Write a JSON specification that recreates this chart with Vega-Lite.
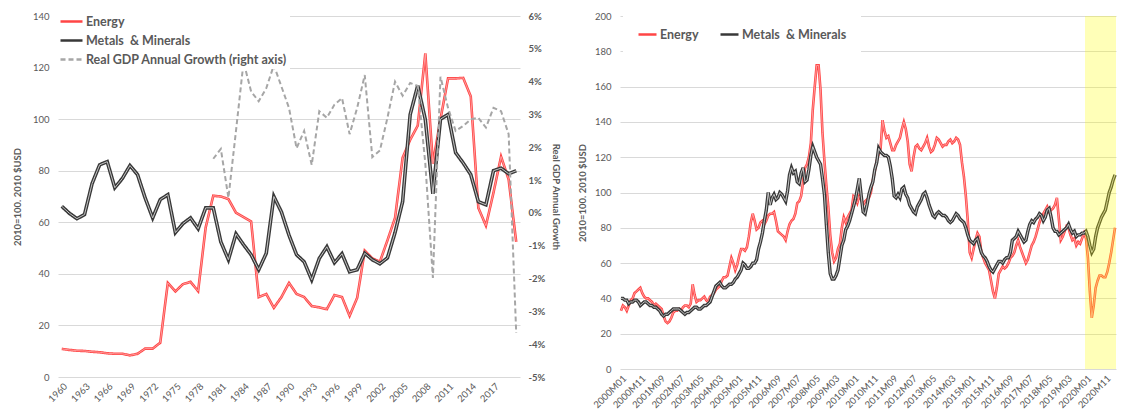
{
 "$schema": "https://vega.github.io/schema/vega-lite/v6.json",
 "background": "white",
 "padding": {"left": 12, "top": 6, "right": 0, "bottom": 0},
 "config": {
  "font": "Lato",
  "view": {"stroke": null},
  "axis": {"labelFont": "Lato", "labelFontSize": 9.5, "labelColor": "#595959", "titleFont": "Lato", "titleFontSize": 9.5, "titleFontWeight": "bold", "titleColor": "#595959", "domain": false, "ticks": false, "gridColor": "#d9d9d9", "gridWidth": 1, "labelOverlap": false},
  "legend": {"labelFont": "Lato", "labelFontSize": 12.5, "labelFontWeight": "bold", "labelColor": "#595959", "symbolType": "stroke", "symbolStrokeWidth": 2.5, "fillColor": "white", "labelOffset": 2, "labelLimit": 400}
 },
 "spacing": 16,
 "resolve": {"scale": {"color": "independent", "strokeDash": "independent"}, "legend": {"color": "independent", "strokeDash": "independent"}},
 "datasets": {
  "annual": [
   {"year":1960,"energy":10.9,"metals":66.2},{"year":1961,"energy":10.5,"metals":63.5},{"year":1962,"energy":10.2,"metals":61.4},{"year":1963,"energy":10.1,"metals":63},{"year":1964,"energy":9.8,"metals":75},{"year":1965,"energy":9.6,"metals":82.3},{"year":1966,"energy":9.2,"metals":83.5},{"year":1967,"energy":9.0,"metals":73.4},{"year":1968,"energy":9.0,"metals":77},{"year":1969,"energy":8.4,"metals":82},
   {"year":1970,"energy":9.0,"metals":78.5},{"year":1971,"energy":11.0,"metals":69.5},{"year":1972,"energy":11.0,"metals":61.7},{"year":1973,"energy":13.3,"metals":68.8},{"year":1974,"energy":36.5,"metals":70.7},{"year":1975,"energy":33.2,"metals":56},{"year":1976,"energy":36.0,"metals":59.5},{"year":1977,"energy":36.9,"metals":61.7},{"year":1978,"energy":33.3,"metals":57.5},{"year":1979,"energy":58,"metals":65.6},
   {"year":1980,"energy":70.3,"metals":65.6,"gdp":1.65},{"year":1981,"energy":70,"metals":52.4,"gdp":1.95},{"year":1982,"energy":69,"metals":45.5,"gdp":0.46},{"year":1983,"energy":63.7,"metals":55.5,"gdp":2.5},{"year":1984,"energy":62,"metals":51.3,"gdp":4.6},{"year":1985,"energy":60.3,"metals":47.4,"gdp":3.7},{"year":1986,"energy":31,"metals":41.6,"gdp":3.4},{"year":1987,"energy":32.2,"metals":48,"gdp":3.8},{"year":1988,"energy":26.8,"metals":70,"gdp":4.5},{"year":1989,"energy":31,"metals":64,"gdp":3.85},
   {"year":1990,"energy":36.5,"metals":55,"gdp":3.2},{"year":1991,"energy":32.2,"metals":47.4,"gdp":1.97},{"year":1992,"energy":31,"metals":44.7,"gdp":2.5},{"year":1993,"energy":27.5,"metals":37.7,"gdp":1.46},{"year":1994,"energy":27,"metals":46,"gdp":3.1},{"year":1995,"energy":26.3,"metals":50.5,"gdp":2.9},{"year":1996,"energy":31.8,"metals":44.3,"gdp":3.3},{"year":1997,"energy":31,"metals":47.8,"gdp":3.5},{"year":1998,"energy":23.7,"metals":40.8,"gdp":2.4},{"year":1999,"energy":30.7,"metals":41.6,"gdp":3.2},
   {"year":2000,"energy":49,"metals":48,"gdp":4.2},{"year":2001,"energy":46,"metals":45.5,"gdp":1.7},{"year":2002,"energy":44.7,"metals":43.9,"gdp":1.9},{"year":2003,"energy":53,"metals":46.2,"gdp":2.9},{"year":2004,"energy":61.7,"metals":56,"gdp":4.0},{"year":2005,"energy":85,"metals":68,"gdp":3.57},{"year":2006,"energy":92,"metals":101.8,"gdp":3.96},{"year":2007,"energy":97.5,"metals":113,"gdp":3.87},{"year":2008,"energy":125.5,"metals":99.8,"gdp":1.5},{"year":2009,"energy":82.7,"metals":71,"gdp":-1.98},
   {"year":2010,"energy":100,"metals":100,"gdp":4.15},{"year":2011,"energy":115.8,"metals":101.8,"gdp":3.2},{"year":2012,"energy":115.8,"metals":87,"gdp":2.5},{"year":2013,"energy":116,"metals":83,"gdp":2.65},{"year":2014,"energy":108.8,"metals":78.5,"gdp":2.85},{"year":2015,"energy":65.6,"metals":68,"gdp":2.9},{"year":2016,"energy":58.7,"metals":66.8,"gdp":2.6},{"year":2017,"energy":71.5,"metals":80,"gdp":3.2},{"year":2018,"energy":85.5,"metals":81,"gdp":3.1},{"year":2019,"energy":76.6,"metals":78.8,"gdp":2.4},
   {"year":2020,"energy":52.4,"metals":80,"gdp":-3.66}
  ],
  "monthly": [
   {"t":0,"energy":33,"metals":40},{"t":1,"energy":36,"metals":40},{"t":2,"energy":35,"metals":39},{"t":3,"energy":33,"metals":39},{"t":4,"energy":36,"metals":37},{"t":5,"energy":39,"metals":38},{"t":6,"energy":40,"metals":38},{"t":7,"energy":43,"metals":39},{"t":8,"energy":44,"metals":39},{"t":9,"energy":45,"metals":38},{"t":10,"energy":46,"metals":36},{"t":11,"energy":43,"metals":37},
   {"t":12,"energy":41,"metals":38},{"t":13,"energy":40,"metals":38},{"t":14,"energy":40,"metals":37},{"t":15,"energy":39,"metals":36},{"t":16,"energy":38,"metals":36},{"t":17,"energy":36,"metals":35},{"t":18,"energy":37,"metals":35},{"t":19,"energy":36,"metals":34},{"t":20,"energy":35,"metals":33},{"t":21,"energy":34,"metals":31},{"t":22,"energy":30,"metals":30},{"t":23,"energy":27,"metals":31},
   {"t":24,"energy":26,"metals":31},{"t":25,"energy":27,"metals":32},{"t":26,"energy":29,"metals":33},{"t":27,"energy":32,"metals":34},{"t":28,"energy":33,"metals":34},{"t":29,"energy":33,"metals":34},{"t":30,"energy":34,"metals":34},{"t":31,"energy":33,"metals":33},{"t":32,"energy":35,"metals":32},{"t":33,"energy":36,"metals":31},{"t":34,"energy":36,"metals":32},{"t":35,"energy":35,"metals":32},
   {"t":36,"energy":37,"metals":33},{"t":37,"energy":48,"metals":34},{"t":38,"energy":42,"metals":35},{"t":39,"energy":38,"metals":35},{"t":40,"energy":39,"metals":34},{"t":41,"energy":39,"metals":34},{"t":42,"energy":40,"metals":35},{"t":43,"energy":41,"metals":36},{"t":44,"energy":39,"metals":36},{"t":45,"energy":38,"metals":37},{"t":46,"energy":41,"metals":38},{"t":47,"energy":42,"metals":41},
   {"t":48,"energy":43,"metals":44},{"t":49,"energy":45,"metals":47},{"t":50,"energy":46,"metals":48},{"t":51,"energy":47,"metals":49},{"t":52,"energy":50,"metals":47},{"t":53,"energy":52,"metals":46},{"t":54,"energy":52,"metals":46},{"t":55,"energy":53,"metals":47},{"t":56,"energy":58,"metals":48},{"t":57,"energy":63,"metals":48},{"t":58,"energy":60,"metals":49},{"t":59,"energy":56,"metals":51},
   {"t":60,"energy":59,"metals":52},{"t":61,"energy":64,"metals":54},{"t":62,"energy":68,"metals":56},{"t":63,"energy":68,"metals":60},{"t":64,"energy":67,"metals":59},{"t":65,"energy":69,"metals":57},{"t":66,"energy":75,"metals":57},{"t":67,"energy":83,"metals":58},{"t":68,"energy":88,"metals":60},{"t":69,"energy":84,"metals":60},{"t":70,"energy":79,"metals":62},{"t":71,"energy":80,"metals":68},
   {"t":72,"energy":83,"metals":72},{"t":73,"energy":84,"metals":77},{"t":74,"energy":82,"metals":84},{"t":75,"energy":84,"metals":90},{"t":76,"energy":87,"metals":100},{"t":77,"energy":88,"metals":93},{"t":78,"energy":88,"metals":97},{"t":79,"energy":89,"metals":99},{"t":80,"energy":84,"metals":96},{"t":81,"energy":78,"metals":97},{"t":82,"energy":77,"metals":100},{"t":83,"energy":76,"metals":99},
   {"t":84,"energy":75,"metals":97},{"t":85,"energy":73,"metals":95},{"t":86,"energy":78,"metals":101},{"t":87,"energy":82,"metals":110},{"t":88,"energy":84,"metals":114},{"t":89,"energy":85,"metals":111},{"t":90,"energy":88,"metals":112},{"t":91,"energy":94,"metals":106},{"t":92,"energy":95,"metals":105},{"t":93,"energy":98,"metals":111},{"t":94,"energy":106,"metals":114},{"t":95,"energy":114,"metals":106},
   {"t":96,"energy":116,"metals":107},{"t":97,"energy":120,"metals":113},{"t":98,"energy":128,"metals":121},{"t":99,"energy":147,"metals":126},{"t":100,"energy":160,"metals":123},{"t":101,"energy":172,"metals":120},{"t":102,"energy":172,"metals":118},{"t":103,"energy":158,"metals":116},{"t":104,"energy":134,"metals":108},{"t":105,"energy":118,"metals":99},{"t":106,"energy":104,"metals":82},{"t":107,"energy":92,"metals":66},
   {"t":108,"energy":76,"metals":54},{"t":109,"energy":66,"metals":51},{"t":110,"energy":61,"metals":51},{"t":111,"energy":63,"metals":53},{"t":112,"energy":68,"metals":56},{"t":113,"energy":71,"metals":63},{"t":114,"energy":80,"metals":70},{"t":115,"energy":86,"metals":73},{"t":116,"energy":83,"metals":79},{"t":117,"energy":86,"metals":81},{"t":118,"energy":88,"metals":84},{"t":119,"energy":90,"metals":88},
   {"t":120,"energy":98,"metals":92},{"t":121,"energy":97,"metals":96},{"t":122,"energy":94,"metals":102},{"t":123,"energy":98,"metals":108},{"t":124,"energy":96,"metals":98},{"t":125,"energy":93,"metals":89},{"t":126,"energy":95,"metals":88},{"t":127,"energy":96,"metals":93},{"t":128,"energy":97,"metals":99},{"t":129,"energy":100,"metals":103},{"t":130,"energy":107,"metals":106},{"t":131,"energy":112,"metals":113},
   {"t":132,"energy":118,"metals":117},{"t":133,"energy":122,"metals":125},{"t":134,"energy":125,"metals":123},{"t":135,"energy":141,"metals":122},{"t":136,"energy":135,"metals":121},{"t":137,"energy":131,"metals":121},{"t":138,"energy":132,"metals":120},{"t":139,"energy":128,"metals":115},{"t":140,"energy":124,"metals":108},{"t":141,"energy":124,"metals":98},{"t":142,"energy":127,"metals":97},{"t":143,"energy":129,"metals":99},
   {"t":144,"energy":131,"metals":97},{"t":145,"energy":136,"metals":102},{"t":146,"energy":140,"metals":103},{"t":147,"energy":136,"metals":99},{"t":148,"energy":129,"metals":97},{"t":149,"energy":116,"metals":93},{"t":150,"energy":112,"metals":91},{"t":151,"energy":120,"metals":89},{"t":152,"energy":126,"metals":88},{"t":153,"energy":127,"metals":92},{"t":154,"energy":125,"metals":94},{"t":155,"energy":124,"metals":96},
   {"t":156,"energy":126,"metals":99},{"t":157,"energy":128,"metals":100},{"t":158,"energy":131,"metals":97},{"t":159,"energy":126,"metals":93},{"t":160,"energy":123,"metals":90},{"t":161,"energy":124,"metals":87},{"t":162,"energy":127,"metals":86},{"t":163,"energy":131,"metals":88},{"t":164,"energy":130,"metals":89},{"t":165,"energy":128,"metals":88},{"t":166,"energy":126,"metals":87},{"t":167,"energy":127,"metals":87},
   {"t":168,"energy":127,"metals":86},{"t":169,"energy":129,"metals":84},{"t":170,"energy":130,"metals":83},{"t":171,"energy":128,"metals":84},{"t":172,"energy":129,"metals":86},{"t":173,"energy":131,"metals":88},{"t":174,"energy":130,"metals":87},{"t":175,"energy":127,"metals":85},{"t":176,"energy":117,"metals":84},{"t":177,"energy":109,"metals":83},{"t":178,"energy":98,"metals":80},{"t":179,"energy":84,"metals":76},
   {"t":180,"energy":66,"metals":73},{"t":181,"energy":63,"metals":72},{"t":182,"energy":68,"metals":71},{"t":183,"energy":73,"metals":73},{"t":184,"energy":77,"metals":74},{"t":185,"energy":75,"metals":70},{"t":186,"energy":66,"metals":66},{"t":187,"energy":63,"metals":64},{"t":188,"energy":60,"metals":63},{"t":189,"energy":58,"metals":61},{"t":190,"energy":56,"metals":58},{"t":191,"energy":50,"metals":56},
   {"t":192,"energy":44,"metals":55},{"t":193,"energy":40,"metals":57},{"t":194,"energy":46,"metals":59},{"t":195,"energy":54,"metals":61},{"t":196,"energy":56,"metals":61},{"t":197,"energy":58,"metals":60},{"t":198,"energy":57,"metals":62},{"t":199,"energy":58,"metals":63},{"t":200,"energy":60,"metals":63},{"t":201,"energy":63,"metals":66},{"t":202,"energy":64,"metals":73},{"t":203,"energy":66,"metals":74},
   {"t":204,"energy":70,"metals":75},{"t":205,"energy":73,"metals":78},{"t":206,"energy":69,"metals":76},{"t":207,"energy":66,"metals":74},{"t":208,"energy":63,"metals":72},{"t":209,"energy":60,"metals":73},{"t":210,"energy":62,"metals":78},{"t":211,"energy":66,"metals":82},{"t":212,"energy":70,"metals":84},{"t":213,"energy":72,"metals":83},{"t":214,"energy":75,"metals":85},{"t":215,"energy":79,"metals":86},
   {"t":216,"energy":83,"metals":88},{"t":217,"energy":86,"metals":87},{"t":218,"energy":88,"metals":84},{"t":219,"energy":90,"metals":86},{"t":220,"energy":92,"metals":90},{"t":221,"energy":89,"metals":91},{"t":222,"energy":90,"metals":86},{"t":223,"energy":91,"metals":80},{"t":224,"energy":93,"metals":78},{"t":225,"energy":97,"metals":78},{"t":226,"energy":85,"metals":76},{"t":227,"energy":73,"metals":77},
   {"t":228,"energy":75,"metals":78},{"t":229,"energy":78,"metals":79},{"t":230,"energy":81,"metals":80},{"t":231,"energy":80,"metals":82},{"t":232,"energy":76,"metals":79},{"t":233,"energy":73,"metals":77},{"t":234,"energy":74,"metals":78},{"t":235,"energy":70,"metals":75},{"t":236,"energy":72,"metals":76},{"t":237,"energy":71,"metals":76},{"t":238,"energy":74,"metals":77},{"t":239,"energy":77,"metals":77},
   {"t":240,"energy":74,"metals":78},{"t":241,"energy":63,"metals":75},{"t":242,"energy":44,"metals":70},{"t":243,"energy":29,"metals":66},{"t":244,"energy":36,"metals":68},{"t":245,"energy":46,"metals":75},{"t":246,"energy":50,"metals":80},{"t":247,"energy":53,"metals":83},{"t":248,"energy":53,"metals":86},{"t":249,"energy":52,"metals":88},{"t":250,"energy":52,"metals":90},{"t":251,"energy":55,"metals":95},
   {"t":252,"energy":60,"metals":100},{"t":253,"energy":66,"metals":103},{"t":254,"energy":73,"metals":107},{"t":255,"energy":80,"metals":110}
  ]
 },
 "hconcat": [
  {
   "width": 462,
   "height": 361,
   "data": {"name": "annual"},
   "resolve": {"scale": {"y": "independent"}},
   "layer": [
    {
     "layer": [
      {
       "mark": {"type": "line", "strokeWidth": 2.6},
       "encoding": {
        "x": {"field": "year", "type": "quantitative", "scale": {"domain": [1959.5, 2020.5], "nice": false, "zero": false}, "axis": {"values": [1960,1963,1966,1969,1972,1975,1978,1981,1984,1987,1990,1993,1996,1999,2002,2005,2008,2011,2014,2017], "tickCount": 100, "format": "d", "labelAngle": -45, "title": null, "grid": false, "labelPadding": 4}},
        "y": {"field": "energy", "type": "quantitative", "scale": {"domain": [0, 140], "nice": false}, "axis": {"values": [0,20,40,60,80,100,120,140], "tickCount": 100, "title": "2010=100. 2010 $USD", "titlePadding": 10, "labelPadding": 9}},
        "color": {"datum": "Energy", "type": "nominal", "scale": {"domain": ["Energy", "Metals\u00a0 & Minerals", "Real GDP Annual Growth (right axis)"], "range": ["#ff4545", "#383838", "#a6a6a6"]}, "legend": {"orient": "none", "legendX": -2, "legendY": -10, "direction": "vertical", "title": null, "padding": 3, "rowPadding": -1, "symbolSize": 484}},
        "strokeDash": {"datum": "Energy", "type": "nominal", "scale": {"domain": ["Energy", "Metals\u00a0 & Minerals", "Real GDP Annual Growth (right axis)"], "range": [[1, 0], [1, 0], [5, 3]]}, "legend": {"orient": "none", "legendX": -2, "legendY": -10, "direction": "vertical", "title": null, "padding": 3, "rowPadding": -1, "symbolSize": 484}}
       }
      },
      {
       "mark": {"type": "line", "strokeWidth": 0.8, "color": "#ffb0b0"},
       "encoding": {"x": {"field": "year", "type": "quantitative"}, "y": {"field": "energy", "type": "quantitative"}}
      },
      {
       "mark": {"type": "line", "strokeWidth": 3.6},
       "encoding": {
        "x": {"field": "year", "type": "quantitative"},
        "y": {"field": "metals", "type": "quantitative"},
        "color": {"datum": "Metals\u00a0 & Minerals", "type": "nominal"},
        "strokeDash": {"datum": "Metals\u00a0 & Minerals", "type": "nominal"}
       }
      },
      {
       "mark": {"type": "line", "strokeWidth": 1, "color": "#c4c4c4"},
       "encoding": {"x": {"field": "year", "type": "quantitative"}, "y": {"field": "metals", "type": "quantitative"}}
      }
     ]
    },
    {
     "mark": {"type": "line", "strokeWidth": 2},
     "encoding": {
      "x": {"field": "year", "type": "quantitative"},
      "y": {"field": "gdp", "type": "quantitative", "scale": {"domain": [-5, 6], "nice": false, "zero": false}, "axis": {"orient": "right", "values": [-5,-4,-3,-2,-1,0,1,2,3,4,5,6], "tickCount": 100, "labelExpr": "datum.value + '%'", "grid": false, "title": "Real GDP Annual Growth", "labelPadding": 8, "titlePadding": 6, "labelFontWeight": "bold"}},
      "color": {"datum": "Real GDP Annual Growth (right axis)", "type": "nominal"},
      "strokeDash": {"datum": "Real GDP Annual Growth (right axis)", "type": "nominal"}
     }
    }
   ]
  },
  {
   "width": 496,
   "height": 353,
   "data": {"name": "monthly"},
   "layer": [
    {
     "mark": {"type": "line", "strokeWidth": 2.6},
     "encoding": {
      "x": {"field": "t", "type": "quantitative", "scale": {"domain": [-0.5, 255.5], "nice": false, "zero": false}, "axis": {"values": [0,10,20,30,40,50,60,70,80,90,100,110,120,130,140,150,160,170,180,190,200,210,220,230,240,250], "tickCount": 100, "labelExpr": "(floor(datum.value/12)+2000) + 'M' + (datum.value%12+1 < 10 ? '0' : '') + (datum.value%12+1)", "labelAngle": -45, "title": null, "grid": false, "labelPadding": 4}},
      "y": {"field": "energy", "type": "quantitative", "scale": {"domain": [0, 200], "nice": false}, "axis": {"values": [0,20,40,60,80,100,120,140,160,180,200], "tickCount": 100, "title": "2010=100. 2010 $USD", "titlePadding": 7, "labelPadding": 9}},
      "color": {"datum": "Energy", "type": "nominal", "scale": {"domain": ["Energy", "Metals\u00a0 & Minerals"], "range": ["#ff4545", "#383838"]}, "legend": {"orient": "none", "legendX": 3, "legendY": -6, "direction": "horizontal", "title": null, "padding": 14, "columnPadding": 16, "symbolSize": 324}}
     }
    },
    {
     "mark": {"type": "line", "strokeWidth": 0.8, "color": "#ffb0b0"},
     "encoding": {"x": {"field": "t", "type": "quantitative"}, "y": {"field": "energy", "type": "quantitative"}}
    },
    {
     "mark": {"type": "line", "strokeWidth": 3.4},
     "encoding": {
      "x": {"field": "t", "type": "quantitative"},
      "y": {"field": "metals", "type": "quantitative"},
      "color": {"datum": "Metals\u00a0 & Minerals", "type": "nominal"}
     }
    },
    {
     "mark": {"type": "line", "strokeWidth": 1, "color": "#c4c4c4"},
     "encoding": {"x": {"field": "t", "type": "quantitative"}, "y": {"field": "metals", "type": "quantitative"}}
    },
    {
     "data": {"values": [{}]},
     "mark": {"type": "rect", "color": "#ffff00", "opacity": 0.28},
     "encoding": {
      "x": {"datum": 239.5, "type": "quantitative"},
      "x2": {"datum": 255.5},
      "y": {"datum": 0, "type": "quantitative"},
      "y2": {"datum": 200}
     }
    }
   ]
  }
 ]
}
